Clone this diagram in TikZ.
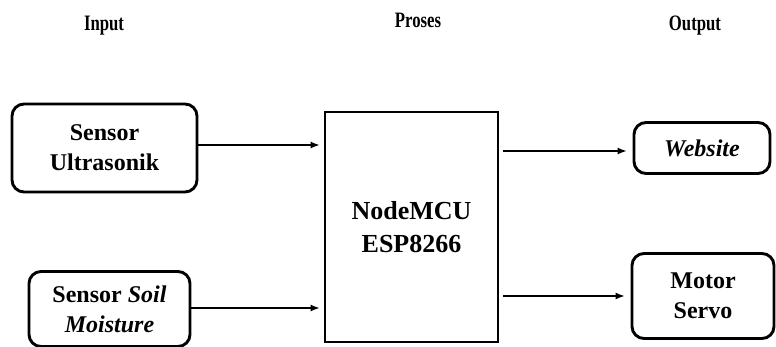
\documentclass[tikz,border=0pt]{standalone}
\usepackage{fontspec}
\setmainfont{Liberation Serif}
\usetikzlibrary{arrows.meta}
\newcommand{\narrowtxt}[1]{\scalebox{0.76}[1]{#1}}
\begin{document}
\begin{tikzpicture}[x=1pt,y=-1pt,
  rbox/.style={draw, line width=2.9pt, rounded corners=12pt, inner sep=0pt, align=center, font=\fontsize{24}{30}\selectfont\bfseries},
  pbox/.style={draw, line width=2.9pt, inner sep=0pt, align=center, font=\fontsize{26}{33}\selectfont\bfseries},
  head/.style={font=\fontsize{22}{24}\selectfont\bfseries},
  conn/.style={line width=1.3pt, -{Latex[length=9pt,width=7pt]}}]
\useasboundingbox (0,0) rectangle (776,347);
\node[head] (hin) at (104,26) {\narrowtxt{Input}};
\node[head] (hpr) at (418,20) {\narrowtxt{Proses}};
\node[head] (hout) at (695,26) {\narrowtxt{Output}};
\node[rbox, minimum width=185pt, minimum height=88pt] (us) at (104.5,148) {Sensor\\Ultrasonik};
\node[rbox, minimum width=161pt, minimum height=75pt] (sm) at (109.5,309) {Sensor \textit{Soil}\\\textit{Moisture}};
\node[pbox, minimum width=173pt, minimum height=230pt] (mcu) at (411.5,227) {NodeMCU\\ESP8266};
\node[rbox, minimum width=136pt, minimum height=51pt] (web) at (702,148) {\textit{Website}};
\node[rbox, minimum width=142pt, minimum height=85pt] (srv) at (703,296) {Motor\\Servo};
\coordinate (a1) at (mcu.west |- 0,145);
\coordinate (a2) at (mcu.west |- 0,308);
\coordinate (b1) at (mcu.east |- 0,151);
\coordinate (b2) at (mcu.east |- 0,296);
\draw[conn] (us.east |- a1) -- ([xshift=-4pt]a1);
\draw[conn] (sm.east |- a2) -- ([xshift=-4pt]a2);
\draw[conn] ([xshift=4pt]b1) -- ([xshift=-6pt]web.west |- b1);
\draw[conn] ([xshift=4pt]b2) -- ([xshift=-6pt]srv.west |- b2);
\end{tikzpicture}
\end{document}
